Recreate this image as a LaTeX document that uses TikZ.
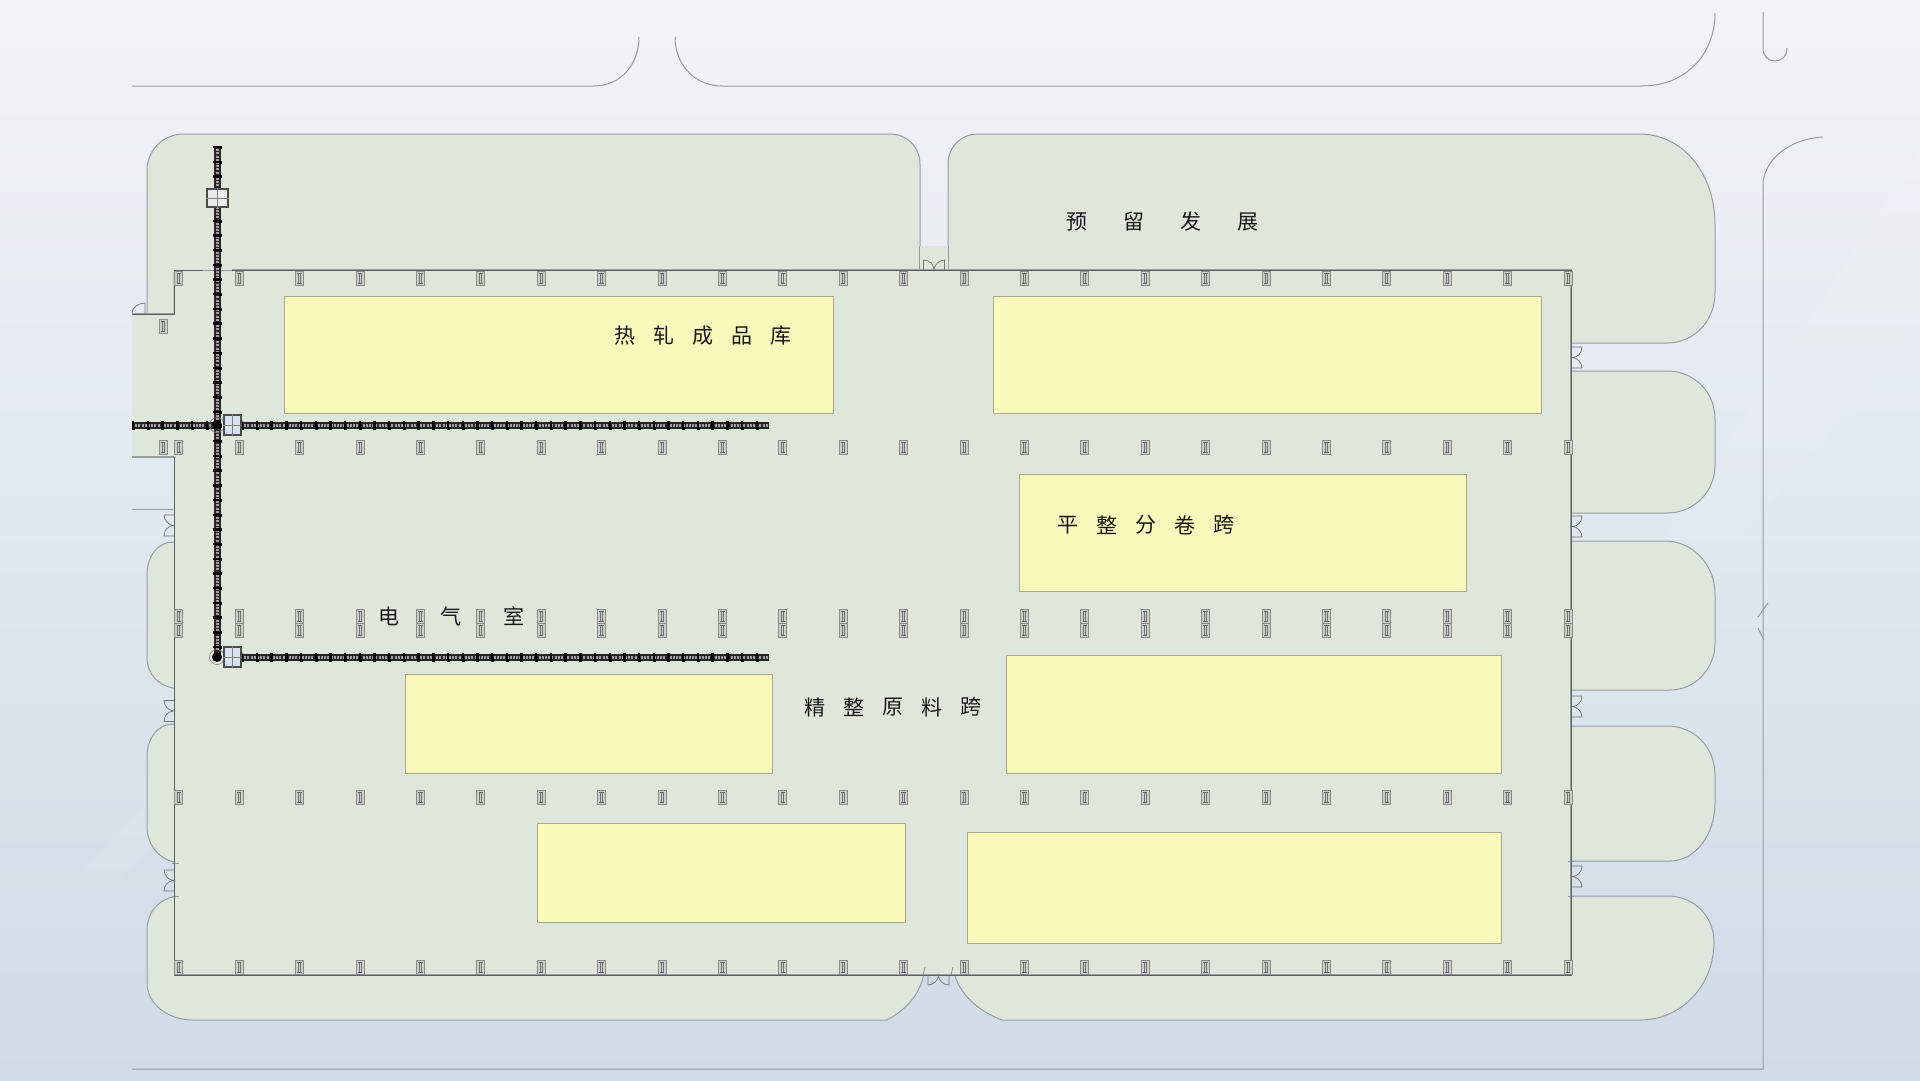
\documentclass[tikz,border=0pt]{standalone}
\usepackage{fontspec}
\newfontfamily\cjk{Noto Sans CJK SC}
\usetikzlibrary{positioning}
\definecolor{bgtop}{HTML}{F1F4F8}
\definecolor{bgmid}{HTML}{E4E9F1}
\definecolor{bglow}{HTML}{D0DBE6}
\definecolor{blockgreen}{HTML}{DFE7DC}
\definecolor{blockedge}{HTML}{979CA1}
\definecolor{stockyellow}{HTML}{F8F9BA}
\definecolor{stockedge}{HTML}{A8AC8C}
\definecolor{wallgray}{HTML}{9BA19A}
\definecolor{walldark}{HTML}{5A605F}
\definecolor{markfill}{HTML}{C9D0C8}
\definecolor{trolleyfill}{HTML}{DAE2F0}
\tikzset{
	pics/colmark/.style={code={
		\draw[draw=gray!90,fill=markfill,line width=.6pt] (-4,-7) rectangle (4,7);
		\draw[black!55,line width=.6pt] (-1,-5) -- (-1,5);
		\draw[black!55,line width=.6pt] (1,-5) -- (1,5);
		\draw[black!60,line width=1pt] (-2.2,-5) -- (2.2,-5);
		\draw[black!60,line width=1pt] (-2.2,5) -- (2.2,5);
	}},
	pics/doorleaf/.style={code={
		\draw[door] (0,-10.5) -- (10,-10.5) .. controls (10,-4) and (5,0) .. (0,0) .. controls (5,0) and (10,5) .. (10,10.5) -- (0,10.5);
	}},
	door/.style={draw=gray!90!black,line width=.7pt},
	block/.style={fill=blockgreen,draw=blockedge,line width=1pt},
	road/.style={draw=blockedge,line width=1pt},
	stock/.style={fill=stockyellow,draw=stockedge,line width=1pt},
	railbed/.style={draw=black!85,line width=7pt},
	railtie/.style={draw=gray!75,line width=3pt,dash pattern=on 2pt off 1.2pt},
	railclip/.style={draw=black,line width=7.5pt,dash pattern=on 2.4pt off 12.3pt},
	railknob/.style={draw=black,line width=3pt,dash pattern=on 3pt off 11.7pt},
	trolley/.style={rectangle,draw=black!70,fill=trolleyfill,line width=1.3pt,inner sep=0pt,minimum width=17pt,minimum height=20pt},
	hub/.style={circle,fill=black,inner sep=0pt,minimum size=10pt},
	tag/.style={font=\cjk\fontsize{21}{21}\selectfont,text=black!90,inner sep=0pt}
}
\newcommand{\railrun}[4]{
	\draw[railbed] (#1) -- (#2);
	\draw[railtie] (#1) -- (#2);
	\draw[railclip] (#1) -- (#2);
	\draw[railknob] ([xshift=#3,yshift=#4]#1) -- ([xshift=#3,yshift=#4]#2);
}
\begin{document}
\begin{tikzpicture}[x=1pt,y=-1pt]
	\useasboundingbox (0,0) rectangle (1920,1080);
	\shade[top color=bgtop,middle color=bgmid,bottom color=bglow] (0,0) rectangle (1920,1080);
	\fill[white,opacity=.06] (70,880) -- (300,660) -- (330,660) -- (120,880) -- cycle;
	\fill[white,opacity=.06] (1650,560) -- (1920,150) -- (1920,330) -- (1720,560) -- cycle;
	% roads
	\draw[road] (132,86) -- (594,86) .. controls (620,86) and (639,65) .. (639,37);
	\draw[road] (675,37) .. controls (675,65) and (695,86) .. (722,86) -- (1642,86) .. controls (1685,86) and (1715,55) .. (1715,13);
	\draw[road] (1763,12) -- (1763,48) .. controls (1763,56) and (1768,61) .. (1775,61) .. controls (1782,61) and (1787,56) .. (1787,48);
	\draw[road] (1823,137) .. controls (1790,139) and (1766,158) .. (1763,182) -- (1763,1069) -- (132,1069);
	\draw[road] (1768,603) -- (1758,617);
	\draw[road] (1758,628) -- (1764,640);
	% yard blocks
	\draw[block] (147,314) -- (147,171) .. controls (147,150) and (163,134) .. (184,134) -- (890,134) .. controls (907,134) and (920,147) .. (920,164) -- (920,272) -- (174,272) -- (174,314) -- cycle;
	\draw[block] (948,272) -- (948,164) .. controls (948,147) and (961,134) .. (978,134) -- (1642,134) .. controls (1685,136) and (1715,175) .. (1715,225) -- (1715,293) .. controls (1715,321) and (1694,343) .. (1667,343) -- (1560,343) -- (1560,272) -- cycle;
	\draw[block] (1560,371) -- (1667,371) .. controls (1694,371) and (1715,392) .. (1715,419) -- (1715,465) .. controls (1715,492) and (1694,513) .. (1667,513) -- (1560,513) -- cycle;
	\draw[block] (1560,541) -- (1665,541) .. controls (1693,541) and (1715,565) .. (1715,594) -- (1715,643) .. controls (1715,669) and (1695,690) .. (1670,690) -- (1560,690) -- cycle;
	\draw[block] (1560,726) -- (1667,726) .. controls (1694,726) and (1715,747) .. (1715,775) -- (1715,803) .. controls (1715,835) and (1695,861) .. (1670,861) -- (1560,861) -- cycle;
	\draw[block] (1560,896) -- (1667,896) .. controls (1694,896) and (1714,916) .. (1714,942) .. controls (1714,985) and (1682,1020) .. (1640,1020) -- (1002,1020) .. controls (975,1010) and (956,990) .. (953,967) -- cycle;
	\draw[block] (179,542) -- (173,542) .. controls (158,542) and (147,556) .. (147,575) -- (147,657) .. controls (147,674) and (158,687) .. (179,689) -- cycle;
	\draw[block] (179,724) -- (173,724) .. controls (158,724) and (147,738) .. (147,757) -- (147,827) .. controls (147,845) and (160,861) .. (179,863) -- cycle;
	\draw[block] (179,896) .. controls (160,897) and (147,912) .. (147,930) -- (147,983) .. controls (147,1004) and (168,1020) .. (193,1020) -- (887,1020) .. controls (905,1010) and (922,995) .. (925,967) -- cycle;
	\fill[blockgreen] (920,246) rectangle (948,272);
	\draw[road] (919.5,246) -- (919.5,272);
	\draw[road] (948,246) -- (948,272);
	% workshop floor
	\fill[blockgreen] (132,314) rectangle (174,457);
	\fill[blockgreen] (174,270) rectangle (1571,975);
	\draw[road] (132,509) -- (173,509);
	\draw[road] (923,975) -- (925,967);
	\draw[road] (951,975) -- (953,967);
	\foreach \ya in {863,896} {\draw[road] (172,\ya) -- (179,\ya);}
	\foreach \ya in {861,896} {\draw[road] (1568,\ya) -- (1574,\ya);}
	% walls
	\draw[draw=wallgray,line width=2.6pt] (232,270) -- (1571,270) -- (1571,975) -- (174,975);
	\draw[draw=wallgray,line width=2.6pt] (132,314) -- (174,314);
	\draw[draw=wallgray,line width=2.6pt] (132,457) -- (174,457);
	\draw[draw=walldark,line width=1pt] (203,270) -- (174,270) -- (174,314) -- (132,314);
	\draw[draw=walldark,line width=1pt] (232,270) -- (1571,270) -- (1571,975) -- (174,975) -- (174,457);
	\draw[draw=blockedge,line width=1pt] (203,270) -- (232,270);
	% door leaves
	\foreach \ya in {357.5,526.5,706.5,876.5} {\pic at (1572,\ya) {doorleaf};}
	\foreach \ya in {525.5,711,880.5} {\pic[rotate=180] at (174,\ya) {doorleaf};}
	\pic[rotate=90] at (934,270) {doorleaf};
	\pic[rotate=-90] at (938.5,975) {doorleaf};
	\draw[door] (145,314) -- (145,303) .. controls (138,303) and (132,308) .. (132,313);
	% stock areas
	\draw[stock] (284,296) rectangle (833.5,413);
	\draw[stock] (993,296) rectangle (1541.5,413);
	\draw[stock] (1019,474) rectangle (1466.5,591.5);
	\draw[stock] (1006,655) rectangle (1501,773.5);
	\draw[stock] (405,674.5) rectangle (772.5,773.5);
	\draw[stock] (537,823) rectangle (905.5,922.5);
	\draw[stock] (967,832.5) rectangle (1501,943.5);
	% column marks
	\foreach \i in {0,...,23} {
		\pgfmathsetmacro{\xa}{178.7+60.4*\i}
		\foreach \ya in {278,447.5,616,630,797.5,967.5} {\pic at (\xa,\ya) {colmark};}
	}
	\pic at (163,326) {colmark};
	\pic at (163,447.5) {colmark};
	% crane rails
	\coordinate (railtop) at (217,146);
	\coordinate (raillow) at (217,657);
	\coordinate (spanw) at (132,425);
	\coordinate (spanjoin) at (217,425);
	\coordinate (spanA) at (241,425);
	\coordinate (endA) at (769,425);
	\coordinate (spanB) at (241,657);
	\coordinate (endB) at (769,657);
	\railrun{railtop}{raillow}{3.8pt}{0pt}
	\railrun{spanw}{spanjoin}{0pt}{-3.8pt}
	\railrun{spanA}{endA}{0pt}{-3.8pt}
	\railrun{spanB}{endB}{0pt}{-3.8pt}
	\node[hub] (hubA) at (217,425) {};
	\node[hub] (hubB) at (217,657) {};
	\foreach \h in {hubA,hubB} {\draw[gray,line width=.6pt] (\h.center) circle (7.5);}
	\node[trolley,minimum width=21pt,minimum height=18pt,fill=black!8] (trolleyC) at (217.5,198) {};
	\node[trolley] (trolleyA) at (232.5,425) {};
	\node[trolley] (trolleyB) at (232.5,657) {};
	\foreach \t in {trolleyA,trolleyB,trolleyC} {
		\draw[gray,line width=.6pt] (\t.north) -- (\t.south);
		\draw[gray,line width=.6pt] (\t.west) -- (\t.east);
	}
	% labels
	\node[tag] (hotA) at (625,336) {热};
	\node[tag,right=17.6pt of hotA] (hotB) {轧};
	\node[tag,right=17.6pt of hotB] (hotC) {成};
	\node[tag,right=17.6pt of hotC] (hotD) {品};
	\node[tag,right=17.6pt of hotD] (hotE) {库};
	\node[tag] (flatA) at (1068,525) {平};
	\node[tag,right=17.6pt of flatA] (flatB) {整};
	\node[tag,right=17.6pt of flatB] (flatC) {分};
	\node[tag,right=17.6pt of flatC] (flatD) {卷};
	\node[tag,right=17.6pt of flatD] (flatE) {跨};
	\node[tag] (rawA) at (815,707) {精};
	\node[tag,right=17.6pt of rawA] (rawB) {整};
	\node[tag,right=17.6pt of rawB] (rawC) {原};
	\node[tag,right=17.6pt of rawC] (rawD) {料};
	\node[tag,right=17.6pt of rawD] (rawE) {跨};
	\node[tag] (elecA) at (389,616) {电};
	\node[tag,right=41pt of elecA] (elecB) {气};
	\node[tag,right=41pt of elecB] (elecC) {室};
	\node[tag] (spareA) at (1077,222) {预};
	\node[tag,right=35.7pt of spareA] (spareB) {留};
	\node[tag,right=35.7pt of spareB] (spareC) {发};
	\node[tag,right=35.7pt of spareC] (spareD) {展};
\end{tikzpicture}
\end{document}
